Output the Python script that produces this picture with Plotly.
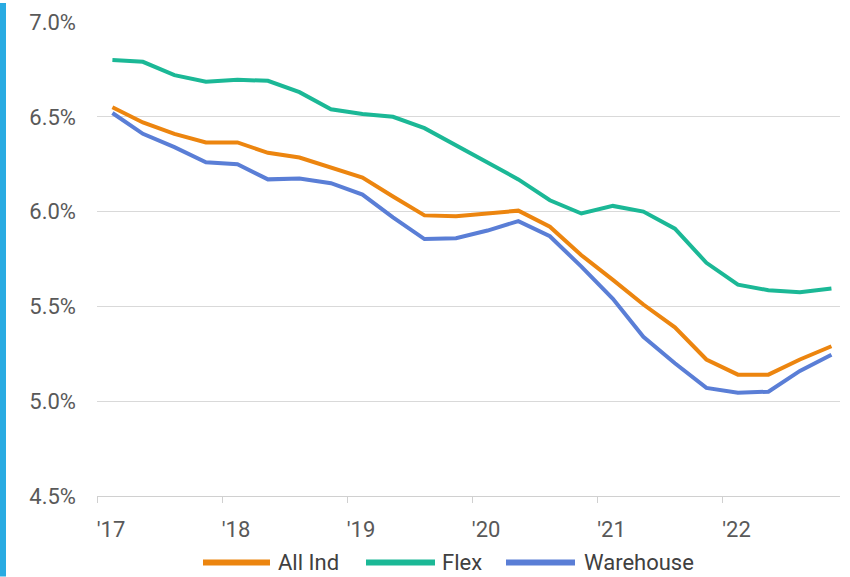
import plotly.graph_objects as go

# ---- data ----
quarters = ["2017-02-15", "2017-05-15", "2017-08-15", "2017-11-15",
            "2018-02-15", "2018-05-15", "2018-08-15", "2018-11-15",
            "2019-02-15", "2019-05-15", "2019-08-15", "2019-11-15",
            "2020-02-15", "2020-05-15", "2020-08-15", "2020-11-15",
            "2021-02-15", "2021-05-15", "2021-08-15", "2021-11-15",
            "2022-02-15", "2022-05-15", "2022-08-15", "2022-11-15"]
all_ind = [6.55, 6.47, 6.41, 6.365, 6.365, 6.31, 6.285, 6.235, 6.18, 6.08, 5.98, 5.975,
           5.99, 6.005, 5.92, 5.77, 5.64, 5.51, 5.39, 5.22, 5.14, 5.14, 5.22, 5.29]
flex = [6.80, 6.79, 6.72, 6.685, 6.695, 6.69, 6.63, 6.54, 6.515, 6.50, 6.44, 6.35,
        6.26, 6.17, 6.06, 5.99, 6.03, 6.00, 5.91, 5.73, 5.615, 5.585, 5.575, 5.595]
warehouse = [6.52, 6.41, 6.34, 6.26, 6.25, 6.17, 6.175, 6.15, 6.09, 5.97, 5.855, 5.86,
             5.90, 5.95, 5.87, 5.71, 5.54, 5.34, 5.20, 5.07, 5.045, 5.05, 5.16, 5.245]
series_names = ["All Ind", "Flex", "Warehouse"]
year_ticks = ["2017-01-01", "2018-01-01", "2019-01-01", "2020-01-01", "2021-01-01", "2022-01-01"]
year_labels = ["'17", "'18", "'19", "'20", "'21", "'22"]
y_ticks = [4.5, 5.0, 5.5, 6.0, 6.5, 7.0]
y_labels = ["4.5%", "5.0%", "5.5%", "6.0%", "6.5%", "7.0%"]

colors = ["#EC850F", "#1BB896", "#5A7ED6"]
W, H = 850, 577
ML, MR, MT, MB = 97, 10, 19, 81
PW, PH = W - ML - MR, H - MT - MB

def px2x(px):
    return (px - ML) / PW

def px2y(py):
    return (H - MB - py) / PH

fig = go.Figure()
for name, vals, col in zip(series_names, [all_ind, flex, warehouse], colors):
    fig.add_trace(go.Scatter(x=quarters, y=vals, mode="lines", name=name,
                             line=dict(color=col, width=4), showlegend=False))

font_fam = "Roboto, Arial, sans-serif"
fig.update_layout(
    width=W, height=H,
    margin=dict(l=ML, r=MR, t=MT, b=MB),
    paper_bgcolor="white", plot_bgcolor="white",
    font=dict(family=font_fam, size=22, color="#595959"),
)
fig.update_xaxes(
    type="date", range=["2017-01-01", "2022-12-10"],
    tickvals=year_ticks, ticktext=year_labels,
    showgrid=False, showline=True, linecolor="#d0d0d0", linewidth=1,
    ticks="outside", ticklen=6, tickcolor="#d0d0d0", tickwidth=1,
    ticklabelshift=14, ticklabelstandoff=8,
    zeroline=False,
)
fig.update_yaxes(
    range=[4.5, 7.0], tickvals=y_ticks, ticktext=y_labels,
    showgrid=True, gridcolor="#d9d9d9", gridwidth=1,
    showline=False, zeroline=False, ticklabelstandoff=20,
)

shapes = [dict(type="rect", xref="paper", yref="paper",
               x0=px2x(0), x1=px2x(6), y0=px2y(H), y1=px2y(0),
               fillcolor="#29ABE2", line=dict(width=0), layer="above")]
annotations = []
legend_items = [(203, 270, 276), (366, 435, 440), (506, 575, 582)]
ly = 563
for (x0, x1, tx), name, col in zip(legend_items, series_names, colors):
    shapes.append(dict(type="line", xref="paper", yref="paper",
                       x0=px2x(x0), x1=px2x(x1), y0=px2y(ly), y1=px2y(ly),
                       line=dict(color=col, width=6)))
    annotations.append(dict(x=px2x(tx), y=px2y(ly), xref="paper", yref="paper",
                            text=name, showarrow=False, xanchor="left", yanchor="middle",
                            font=dict(family=font_fam, size=22, color="#404040")))
fig.update_layout(shapes=shapes, annotations=annotations)

fig.write_html("out.html")
